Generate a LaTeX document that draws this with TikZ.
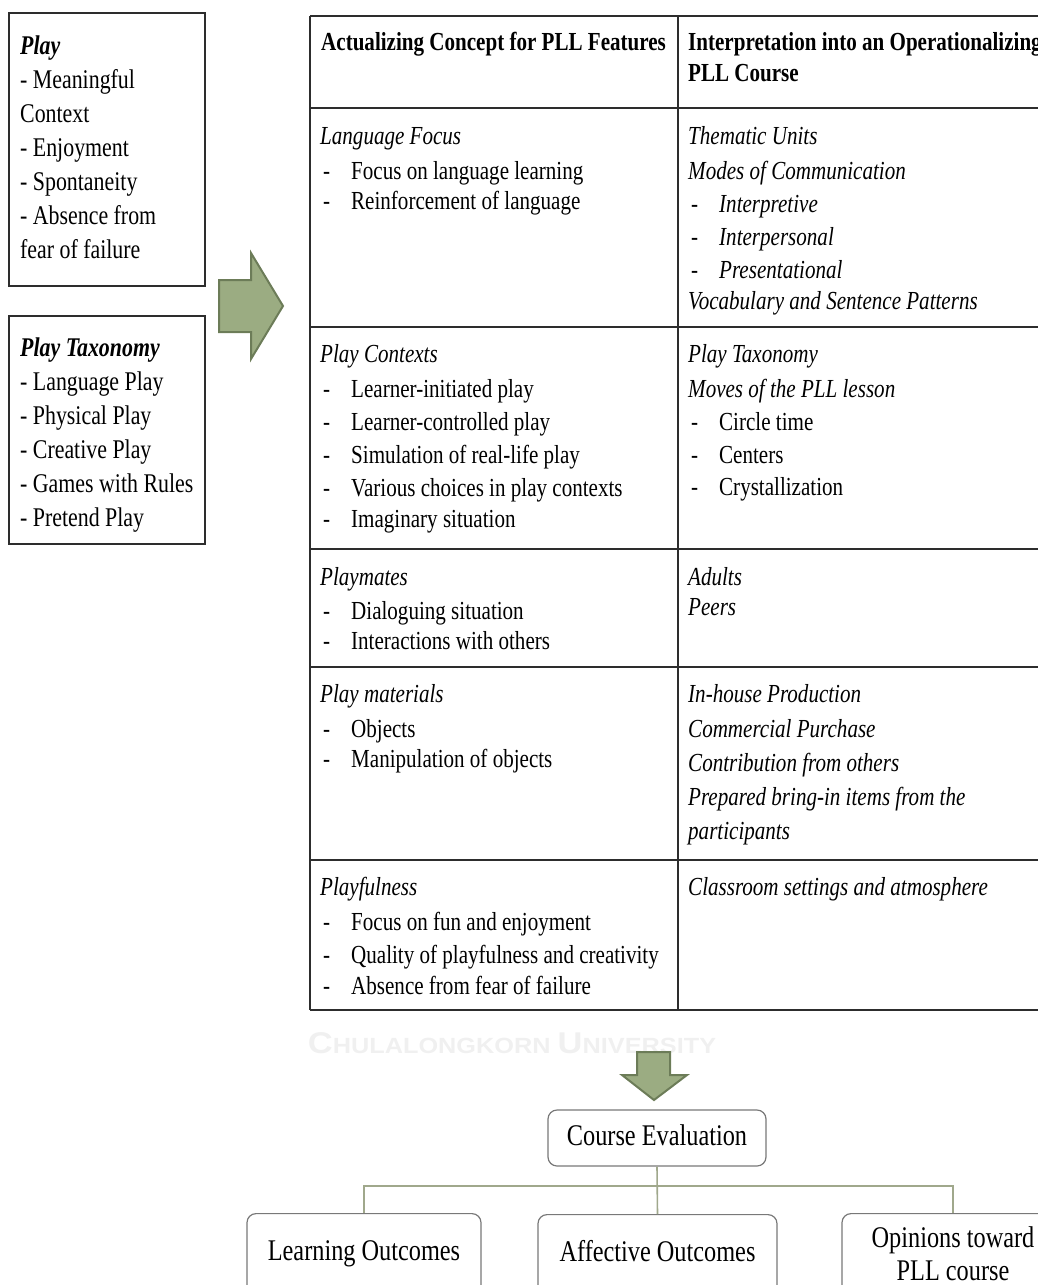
\documentclass[tikz,border=0pt]{standalone}
\usepackage{fontspec}
\setmainfont{Liberation Serif}[FakeStretch=0.81]
\newfontfamily\wmfont{Liberation Sans}[FakeStretch=1.15]
\usetikzlibrary{positioning}

\definecolor{arrowfill}{RGB}{155,172,130}
\definecolor{arrowdraw}{RGB}{108,124,88}
\definecolor{linkcol}{RGB}{160,168,140}
\definecolor{boxgray}{RGB}{120,120,120}
\definecolor{rulecol}{RGB}{45,45,45}

\newcommand{\cellfont}{\fontsize{26}{33}\selectfont}
\newcommand{\sidefont}{\fontsize{27}{34}\selectfont}
\newcommand{\evalfont}{\fontsize{30}{33}\selectfont}
\newcommand{\li}[1]{\makebox[31pt][l]{\hspace{3pt}-}#1}

\begin{document}
\begin{tikzpicture}[x=1pt, y=-1pt,
    rule/.style={draw=rulecol, line width=1.8pt},
    cell/.style={anchor=base west, inner sep=0pt, font=\cellfont},
    side/.style={anchor=base west, inner sep=0pt, font=\sidefont},
    bigarrow/.style={fill=arrowfill, draw=arrowdraw, line width=2pt, line join=miter},
    evalbox/.style={draw=boxgray, line width=1.2pt, rounded corners=9pt, fill=white, font=\evalfont, inner sep=0pt},
    oneline/.style={text height=21pt, text depth=7pt},
    link/.style={draw=linkcol, line width=1.6pt},
    wmark/.style={anchor=base, inner sep=0pt, text=black!6, font=\wmfont\bfseries}]
  \useasboundingbox (0,0) rectangle (1038,1285);
  \clip (0,0) rectangle (1038,1285);

  % Watermark
  \node[wmark] (wm) at (512,1053) {\fontsize{30}{30}\selectfont C\fontsize{22}{22}\selectfont
    HULALONGKORN \fontsize{30}{30}\selectfont U\fontsize{22}{22}\selectfont NIVERSITY};

  % Left boxes
  \draw[rule] (9,13) rectangle (205,286);
  \node[side] (play) at (20,54) {\begin{tabular}[t]{@{}l@{}}
      \textbf{\textit{Play}}\\ - Meaningful\\ Context\\ - Enjoyment\\
      - Spontaneity\\ - Absence from\\ fear of failure\end{tabular}};
  \draw[rule] (9,316) rectangle (205,544);
  \node[side] (taxo) at (20,356) {\begin{tabular}[t]{@{}l@{}}
      \textbf{\textit{Play Taxonomy}}\\ - Language Play\\ - Physical Play\\
      - Creative Play\\ - Games with Rules\\ - Pretend Play\end{tabular}};

  % Arrows
  \draw[bigarrow] (219,280) -- (251,280) -- (251,253) -- (283,306) -- (251,359)
    -- (251,332) -- (219,332) -- cycle;
  \draw[bigarrow] (637,1052) -- (670,1052) -- (670,1075) -- (687,1075) -- (654,1100)
    -- (622,1075) -- (637,1075) -- cycle;

  % Table
  \foreach \y in {16,108,327,549,667,860,1010}
    \draw[rule] (310,\y) -- (1045,\y);
  \draw[rule] (310,16) -- (310,1010);
  \draw[rule] (678,16) -- (678,1010);

  \node[cell, font=\cellfont\bfseries] (headl) at (321,50) {Actualizing Concept for PLL Features};
  \node[cell, font=\cellfont\bfseries] (headr) at (688,50) {\begin{tabular}[t]{@{}l@{}}
      Interpretation into an Operationalizing\\[-2pt] PLL Course\end{tabular}};

  \node[cell] (focus) at (320,144) {\begin{tabular}[t]{@{}l@{}}
      \textit{Language Focus}\\[2pt] \li{Focus on language learning}\\[-3pt]
      \li{Reinforcement of language}\end{tabular}};
  \node[cell] (units) at (688,144) {\begin{tabular}[t]{@{}l@{}}
      \textit{Thematic Units}\\[2pt] \textit{Modes of Communication}\\
      \li{\textit{Interpretive}}\\ \li{\textit{Interpersonal}}\\
      \li{\textit{Presentational}}\\[-2pt] \textit{Vocabulary and Sentence Patterns}\end{tabular}};

  \node[cell] (contexts) at (320,362) {\begin{tabular}[t]{@{}l@{}}
      \textit{Play Contexts}\\[2pt] \li{Learner-initiated play}\\
      \li{Learner-controlled play}\\ \li{Simulation of real-life play}\\
      \li{Various choices in play contexts}\\[-2pt] \li{Imaginary situation}\end{tabular}};
  \node[cell] (moves) at (688,362) {\begin{tabular}[t]{@{}l@{}}
      \textit{Play Taxonomy}\\[2pt] \textit{Moves of the PLL lesson}\\
      \li{Circle time}\\ \li{Centers}\\[-1pt] \li{Crystallization}\end{tabular}};

  \node[cell] (mates) at (320,585) {\begin{tabular}[t]{@{}l@{}}
      \textit{Playmates}\\[1pt] \li{Dialoguing situation}\\[-3pt]
      \li{Interactions with others}\end{tabular}};
  \node[cell] (peers) at (688,585) {\begin{tabular}[t]{@{}l@{}}
      \textit{Adults}\\[-3pt] \textit{Peers}\end{tabular}};

  \node[cell] (materials) at (320,702) {\begin{tabular}[t]{@{}l@{}}
      \textit{Play materials}\\[2pt] \li{Objects}\\[-3pt]
      \li{Manipulation of objects}\end{tabular}};
  \node[cell] (sources) at (688,702) {\begin{tabular}[t]{@{}l@{}}
      \textit{In-house Production}\\[2pt] \textit{Commercial Purchase}\\[1pt]
      \textit{Contribution from others}\\[1pt] \textit{Prepared bring-in items from the}\\[1pt]
      \textit{participants}\end{tabular}};

  \node[cell] (fun) at (320,895) {\begin{tabular}[t]{@{}l@{}}
      \textit{Playfulness}\\[2pt] \li{Focus on fun and enjoyment}\\
      \li{Quality of playfulness and creativity}\\[-2pt]
      \li{Absence from fear of failure}\end{tabular}};
  \node[cell] (settings) at (688,895) {\textit{Classroom settings and atmosphere}};

  % Evaluation
  \node[evalbox, oneline, minimum width=218, minimum height=56] (eval) at (657,1138) {Course Evaluation};
  \node[evalbox, oneline, minimum width=234, minimum height=80, anchor=north] (learn) at (364,1213) {Learning Outcomes};
  \node[evalbox, oneline, minimum width=239, minimum height=80, anchor=north] (affect) at (657.5,1214) {Affective Outcomes};
  \node[evalbox, minimum width=222, minimum height=80, anchor=north, align=center] (opin) at (953,1213)
    {Opinions toward\\PLL course};
  \coordinate (bus) at (657,1186);
  \draw[link] (eval.south) -- (affect.north);
  \draw[link] (learn.north) |- (bus) -| (opin.north);
\end{tikzpicture}
\end{document}
